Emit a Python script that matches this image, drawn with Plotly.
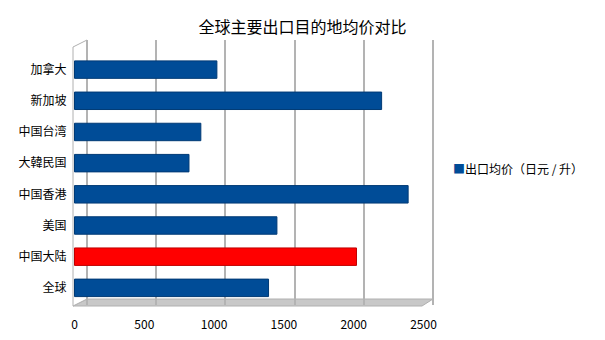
import plotly.graph_objects as go

categories = ["全球", "中国大陆", "美国", "中国香港", "大韓民国", "中国台湾", "新加坡", "加拿大"]
values = [1390, 2020, 1450, 2390, 820, 905, 2200, 1020]
colors = ["#004C97", "#FF0000", "#004C97", "#004C97", "#004C97", "#004C97", "#004C97", "#004C97"]
edge_colors = ["#003A75", "#C00000", "#003A75", "#003A75", "#003A75", "#003A75", "#003A75", "#003A75"]
x_ticks = [0, 500, 1000, 1500, 2000, 2500]
title = "全球主要出口目的地均价对比"
series_name = "出口均价（日元 / 升）"

FONT = "Noto Sans CJK SC, Noto Sans, sans-serif"

L, R, T, B = 73, 170, 40, 35
W = 605 - L - R
H = 340 - T - B
RIGHT_PX = 605 - R

# front scale (labels and bars)
front0, fscale = 74.5, 0.1396
# back-wall scale (gridlines)
back0, bscale = 87.0, 0.1384

fig = go.Figure()
fig.add_trace(go.Bar(
    y=categories, x=values, orientation="h",
    marker=dict(color=colors, line=dict(color=edge_colors, width=1)),
    width=0.56, showlegend=False, name=series_name,
))
fig.add_trace(go.Scatter(x=[None], y=[None], xaxis="x2", showlegend=False, hoverinfo="skip"))


def px(x):
    return (x - L) / W


def py(y):
    return (340 - B - y) / H


# floor and side wall decoration
fig.add_shape(type="path", xref="paper", yref="paper",
              path=f"M {px(73)} {py(306)} L {px(422)} {py(306)} L {px(433)} {py(299)} L {px(87)} {py(299)} Z",
              fillcolor="#C8C8C8", line=dict(color="#B0B0B0", width=1), layer="below")
fig.add_shape(type="path", xref="paper", yref="paper",
              path=f"M {px(73)} {py(306)} L {px(73)} {py(47)} L {px(87)} {py(40)} L {px(87)} {py(299)} Z",
              fillcolor="white", line=dict(color="#B0B0B0", width=1), layer="below")

fig.add_annotation(xref="paper", yref="paper", x=px(451), y=py(168), xanchor="left", yanchor="middle",
                   text=f"<span style='color:#004C97'>■</span>{series_name}", showarrow=False,
                   font=dict(size=12, color="black", family=FONT))

fig.update_layout(
    width=605, height=340,
    margin=dict(l=L, r=R, t=T, b=B, autoexpand=False),
    paper_bgcolor="white", plot_bgcolor="white",
    title=dict(text=title, x=0.5, xanchor="center", y=1 - 27 / 340, yanchor="middle",
               font=dict(size=16, color="black", family=FONT)),
    font=dict(family=FONT, size=12, color="black"),
    xaxis=dict(range=[-(front0 - L) / fscale, (RIGHT_PX - front0) / fscale], tickvals=x_ticks,
               showgrid=False, zeroline=False, showline=False, ticks="outside", ticklen=9,
               tickcolor="rgba(0,0,0,0)", tickfont=dict(size=12, color="black"), fixedrange=True,
               automargin=False),
    xaxis2=dict(range=[-(back0 - L) / bscale, (RIGHT_PX - back0) / bscale], tickvals=x_ticks,
                overlaying="x", side="bottom", showticklabels=False, showgrid=True,
                gridcolor="#B3B3B3", gridwidth=2, zeroline=False, showline=False, ticks="",
                automargin=False),
    yaxis=dict(categoryorder="array", categoryarray=categories, range=[-0.55, 7.95],
               showgrid=False, zeroline=False, showline=False, ticks="outside", ticklen=3,
               tickcolor="rgba(0,0,0,0)", tickfont=dict(size=12, color="black"), automargin=False),
    bargap=0.44,
)

fig.write_html("out.html")
